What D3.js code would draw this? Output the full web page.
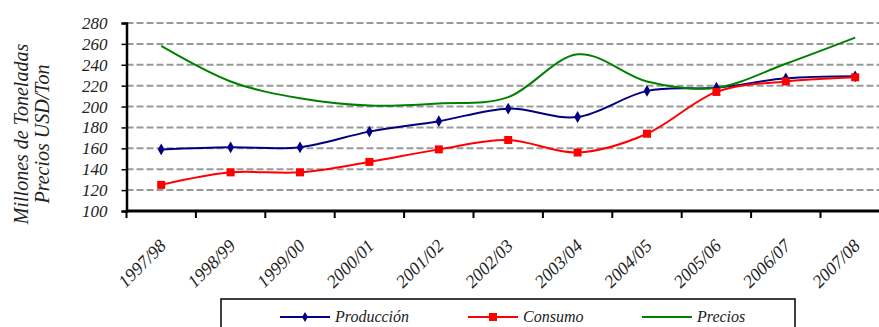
<!DOCTYPE html>
<html>
<head>
<meta charset="utf-8">
<script src="https://cdn.jsdelivr.net/npm/d3@7"></script>
<style>
  body { margin: 0; background: #fff; }
  svg { display: block; font-family: "Liberation Serif", "DejaVu Serif", serif; font-style: italic; }
</style>
</head>
<body>
<svg id="chart" width="879" height="327"></svg>
<script>
let categories = ["1997/98", "1998/99", "1999/00", "2000/01", "2001/02", "2002/03",
                  "2003/04", "2004/05", "2005/06", "2006/07", "2007/08"];
let produccion = [159, 161, 161, 176, 186, 198, 190, 215, 218, 227, 229];
let consumo    = [125, 137, 137, 147, 159, 168, 156, 174, 214, 224, 228];
let precios    = [258, 224, 208, 201, 203, 209, 250, 224, 218, 241, 266];
let yTicks     = [100, 120, 140, 160, 180, 200, 220, 240, 260, 280];
let seriesNames = ["Producción", "Consumo", "Precios"];

let svg = d3.select("#chart");

let plotLeft = 126.5, plotTop = 23, plotBottom = 211;
let step = 69.4;

let x = d3.scaleBand()
    .domain(categories)
    .range([plotLeft, plotLeft + step * categories.length])
    .padding(0);

let y = d3.scaleLinear()
    .domain([100, 280])
    .range([plotBottom, plotTop]);

let cx = d => x(d) + x.bandwidth() / 2;

// gridlines
svg.append("g")
    .selectAll("line")
    .data(yTicks.slice(1))
    .enter().append("line")
    .attr("x1", plotLeft)
    .attr("x2", 879)
    .attr("y1", d => y(d))
    .attr("y2", d => y(d))
    .attr("stroke", "#999")
    .attr("stroke-width", 2)
    .attr("stroke-dasharray", "7,3");

// y axis
let yAxis = svg.append("g")
    .attr("transform", "translate(" + plotLeft + ",0)")
    .call(d3.axisLeft(y).tickValues(yTicks).tickSize(5).tickPadding(14));
yAxis.select(".domain").attr("stroke", "#000").attr("stroke-width", 2.5);
yAxis.selectAll(".tick line").attr("stroke", "#000").attr("stroke-width", 1.5);
yAxis.selectAll("text")
    .attr("font-family", "Liberation Serif, serif")
    .attr("font-style", "italic")
    .attr("font-size", 17)
    .attr("fill", "#222");

// x axis
let xAxis = svg.append("g")
    .attr("transform", "translate(0," + plotBottom + ")");
xAxis.append("line")
    .attr("x1", plotLeft)
    .attr("x2", 879)
    .attr("y1", 0)
    .attr("y2", 0)
    .attr("stroke", "#000")
    .attr("stroke-width", 3);
xAxis.selectAll(".xtick")
    .data(categories)
    .enter().append("line")
    .attr("class", "xtick")
    .attr("x1", d => x(d))
    .attr("x2", d => x(d))
    .attr("y1", 0)
    .attr("y2", 7)
    .attr("stroke", "#000")
    .attr("stroke-width", 2);
xAxis.selectAll(".xlabel")
    .data(categories)
    .enter().append("text")
    .attr("class", "xlabel")
    .attr("text-anchor", "end")
    .attr("font-size", 18)
    .attr("fill", "#222")
    .attr("transform", d => "translate(" + (cx(d) + 6) + ",36) rotate(-45)")
    .text(d => d);

// y axis title
let yTitle = svg.append("text")
    .attr("transform", "translate(0,134) rotate(-90)")
    .attr("text-anchor", "middle")
    .attr("font-size", 20)
    .attr("fill", "#222");
yTitle.append("tspan").attr("x", 0).attr("y", 28).text("Millones de Toneladas");
yTitle.append("tspan").attr("x", 0).attr("y", 49).text("Precios USD/Ton");

// lines
let curve = d3.curveCatmullRom.alpha(0);
let line = d3.line()
    .x((d, i) => cx(categories[i]))
    .y(d => y(d))
    .curve(curve);

let colors = ["#000080", "#ff0000", "#008000"];
let data = [produccion, consumo, precios];

svg.append("g")
    .selectAll("path")
    .data(data)
    .enter().append("path")
    .attr("d", line)
    .attr("fill", "none")
    .attr("stroke", (d, i) => colors[i])
    .attr("stroke-width", 2);

// markers
svg.append("g")
    .selectAll("path")
    .data(produccion)
    .enter().append("path")
    .attr("transform", (d, i) => "translate(" + cx(categories[i]) + "," + y(d) + ")")
    .attr("d", d3.symbol().type(d3.symbolDiamond).size(40))
    .attr("fill", colors[0]);

svg.append("g")
    .selectAll("rect")
    .data(consumo)
    .enter().append("rect")
    .attr("x", (d, i) => cx(categories[i]) - 4)
    .attr("y", d => y(d) - 4)
    .attr("width", 8)
    .attr("height", 8)
    .attr("fill", colors[1]);

// legend
let legend = svg.append("g");
legend.append("rect")
    .attr("x", 221)
    .attr("y", 299)
    .attr("width", 574)
    .attr("height", 60)
    .attr("fill", "#fff")
    .attr("stroke", "#000")
    .attr("stroke-width", 1.5);

let legendX = [280, 468, 642];
let item = legend.selectAll(".item")
    .data(seriesNames)
    .enter().append("g")
    .attr("transform", (d, i) => "translate(" + legendX[i] + ",317)");
item.append("line")
    .attr("x1", 0)
    .attr("x2", 50)
    .attr("stroke", (d, i) => colors[i])
    .attr("stroke-width", 2);
item.append("text")
    .attr("x", 55)
    .attr("dy", "0.32em")
    .attr("font-size", 16)
    .attr("fill", "#222")
    .text(d => d);

legend.append("path")
    .attr("transform", "translate(305,317)")
    .attr("d", d3.symbol().type(d3.symbolDiamond).size(30))
    .attr("fill", colors[0]);
legend.append("rect")
    .attr("x", 489)
    .attr("y", 313)
    .attr("width", 8)
    .attr("height", 8)
    .attr("fill", colors[1]);
</script>
</body>
</html>
